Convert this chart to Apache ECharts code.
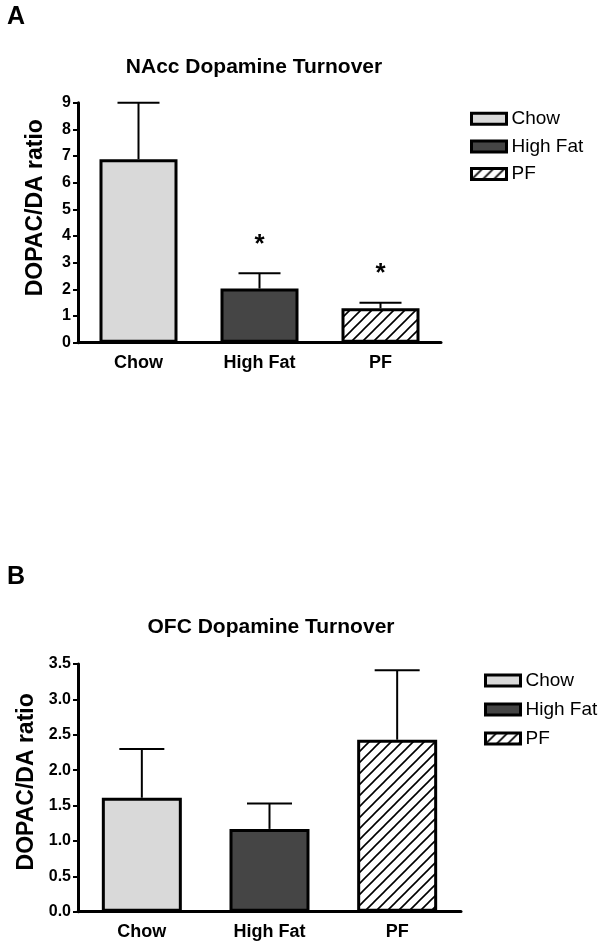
<!DOCTYPE html>
<html>
<head>
<meta charset="utf-8">
<script src="https://cdn.jsdelivr.net/npm/echarts@6/dist/echarts.min.js"></script>
<style>
  html, body { margin: 0; padding: 0; background: #fff; }
  #chart { width: 609px; height: 945px; }
</style>
</head>
<body>
<div id="chart"></div>
<script>
// ---- data ----
const categories = ['Chow', 'High Fat', 'PF'];
const naccMeans = [6.88, 2.03, 1.29];
const naccSEM = [2.12, 0.57, 0.21];
const naccSig = ['', '*', '*'];
const ofcMeans = [1.61, 1.17, 2.43];
const ofcSEM = [0.69, 0.36, 0.98];
const ofcSig = ['', '', ''];
const naccTitle = 'NAcc Dopamine Turnover';
const ofcTitle = 'OFC Dopamine Turnover';
const yLabel = 'DOPAC/DA ratio';

// ---- styles ----
const FONT = '"Liberation Sans", Arial, sans-serif';
function hatch() {
  const s = 11;
  const c = document.createElement('canvas');
  c.width = s; c.height = s;
  const g = c.getContext('2d');
  g.fillStyle = '#fff'; g.fillRect(0, 0, s, s);
  g.strokeStyle = '#000'; g.lineWidth = 1.6;
  g.beginPath();
  g.moveTo(-1, s + 1); g.lineTo(s + 1, -1);
  g.moveTo(-2, 2); g.lineTo(2, -2);
  g.moveTo(s - 2, s + 2); g.lineTo(s + 2, s - 2);
  g.stroke();
  return { image: c, repeat: 'repeat' };
}
const fills = ['#d9d9d9', '#454545', hatch()];

const chart = echarts.init(document.getElementById('chart'), null, { renderer: 'canvas' });

function barSeries(axisIdx, means, barW) {
  return categories.map((name, i) => ({
    type: 'bar',
    name: name,
    xAxisIndex: axisIdx, yAxisIndex: axisIdx,
    barGap: '-100%',
    barWidth: barW,
    data: means.map((v, j) => (j === i ? v : '-')),
    itemStyle: { color: fills[i], borderColor: '#000', borderWidth: 3 },
    emphasis: { disabled: true },
    z: 2
  }));
}

function errSeries(axisIdx, means, sems, sig, capW) {
  return {
    type: 'custom',
    xAxisIndex: axisIdx, yAxisIndex: axisIdx,
    data: means.map((m, i) => [i, m, sems[i]]),
    z: 3,
    silent: true,
    renderItem: function (params, api) {
      const base = api.coord([api.value(0), api.value(1)]);
      const top = api.coord([api.value(0), api.value(1) + api.value(2)]);
      const children = [
        { type: 'line', shape: { x1: base[0], y1: base[1], x2: top[0], y2: top[1] }, style: { stroke: '#000', lineWidth: 2 } },
        { type: 'line', shape: { x1: top[0] - capW / 2, y1: top[1], x2: top[0] + capW / 2, y2: top[1] }, style: { stroke: '#000', lineWidth: 2 } }
      ];
      const s = sig[params.dataIndex];
      if (s) {
        children.push({ type: 'text', style: { text: s, x: top[0], y: top[1] - 29, textAlign: 'center', textVerticalAlign: 'middle', font: 'bold 26px ' + FONT, fill: '#000' } });
      }
      return { type: 'group', children: children };
    }
  };
}

function xAxis(gridIdx) {
  return {
    type: 'category', gridIndex: gridIdx, data: categories,
    axisLine: { lineStyle: { color: '#000', width: 3 } },
    axisTick: { alignWithLabel: true, length: 8, lineStyle: { color: '#000', width: 3 } },
    axisLabel: { color: '#000', fontFamily: FONT, fontWeight: 'bold', fontSize: 18, margin: 11 },
    splitLine: { show: false }
  };
}
function yAxis(gridIdx, max, interval, fmt, shiftUp) {
  return {
    type: 'value', gridIndex: gridIdx, min: 0, max: max, interval: interval,
    name: yLabel, nameLocation: 'middle', nameRotate: 90, nameGap: 31,
    nameTextStyle: { color: '#000', fontFamily: FONT, fontWeight: 'bold', fontSize: 23, padding: [0, 0, 0, shiftUp] },
    axisLine: { show: true, lineStyle: { color: '#000', width: 3 } },
    axisTick: { show: true, length: 5, lineStyle: { color: '#000', width: 2 } },
    axisLabel: { color: '#000', fontFamily: FONT, fontWeight: 'bold', fontSize: 16, margin: 7, formatter: fmt },
    splitLine: { show: false }
  };
}
function legend(top, left, gap) {
  return {
    data: categories, orient: 'vertical', left: left, top: top,
    padding: 0,
    itemWidth: 35, itemHeight: 11, itemGap: gap,
    icon: 'rect',
    selectedMode: false,
    itemStyle: { borderColor: '#000', borderWidth: 3 },
    textStyle: { color: '#000', fontFamily: FONT, fontSize: 19, lineHeight: 20, padding: [0, 0, 0, 0] }
  };
}

const option = {
  animation: false,
  backgroundColor: '#fff',
  grid: [
    { left: 78, top: 102.7, width: 363, height: 240, containLabel: false },
    { left: 78, top: 664, width: 383, height: 247.7, containLabel: false }
  ],
  xAxis: [xAxis(0), xAxis(1)],
  yAxis: [
    yAxis(0, 9, 1, v => String(v), 30),
    yAxis(1, 3.5, 0.5, v => v.toFixed(1), 12)
  ],
  legend: [legend(108.7, 470, 7.7), legend(670.5, 484, 9)],
  graphic: [
    { type: 'text', style: { text: 'A', x: 16, y: 17, textAlign: 'center', textVerticalAlign: 'middle', font: 'bold 25px ' + FONT, fill: '#000' } },
    { type: 'text', style: { text: 'B', x: 16, y: 577, textAlign: 'center', textVerticalAlign: 'middle', font: 'bold 25px ' + FONT, fill: '#000' } },
    { type: 'text', style: { text: naccTitle, x: 254, y: 67, textAlign: 'center', textVerticalAlign: 'middle', font: 'bold 21px ' + FONT, fill: '#000' } },
    { type: 'text', style: { text: ofcTitle, x: 271, y: 627, textAlign: 'center', textVerticalAlign: 'middle', font: 'bold 21px ' + FONT, fill: '#000' } }
  ],
  series: [].concat(
    barSeries(0, naccMeans, 78),
    [errSeries(0, naccMeans, naccSEM, naccSig, 42)],
    barSeries(1, ofcMeans, 80),
    [errSeries(1, ofcMeans, ofcSEM, ofcSig, 45)]
  )
};
chart.setOption(option);
</script>
</body>
</html>
